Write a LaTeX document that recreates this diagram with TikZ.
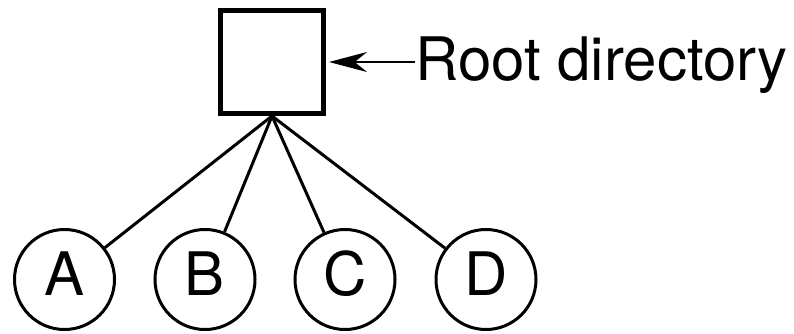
\documentclass[tikz,border=0pt]{standalone}
\usepackage{fontspec}
\setmainfont{TeX Gyre Heros}
\usetikzlibrary{arrows.meta}
\tikzset{
  dirbox/.style={draw, line width=2.5pt, minimum size=51.5pt, inner sep=0pt},
  filenode/.style={draw, circle, line width=1.5pt, minimum size=50pt, inner sep=0pt,
    font=\fontsize{30}{36}\selectfont, text depth=6pt},
  link/.style={line width=1.5pt},
  pointer/.style={line width=1pt, -{Stealth[length=19pt,width=10pt]}, shorten >=1.5pt},
}

\begin{document}
\begin{tikzpicture}[x=0.5pt,y=-0.5pt]
\useasboundingbox (0,0) rectangle (794,333);
% root directory and its label
\node[dirbox] (root) at (272,62) {};
\node[anchor=base west, inner sep=0pt, font=\fontsize{30}{36}\selectfont] (rootlabel) at (415,80) {Root directory};
\draw[pointer] (rootlabel.west |- root.east) -- (root.east);
% files below the root
\node[filenode] (a) at (64.5,279.5) {A};
\node[filenode] (b) at (205,279.5) {B};
\node[filenode] (c) at (345,279.5) {C};
\node[filenode] (d) at (486,279.5) {D};
\draw[link] (root.south) -- (a);
\draw[link] (root.south) -- (b);
\draw[link] (root.south) -- (c);
\draw[link] (root.south) -- (d);
\end{tikzpicture}
\end{document}
